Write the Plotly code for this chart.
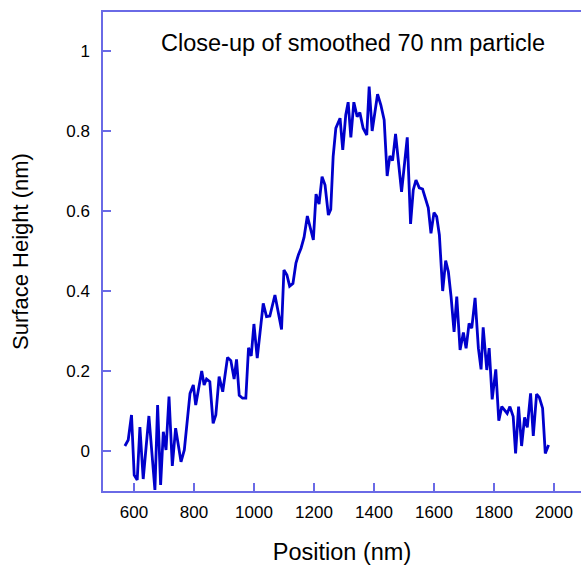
import plotly.graph_objects as go

position_nm = [570, 581, 592, 601, 611, 620, 631, 650, 670, 679,
               689, 698, 707, 717, 728, 739, 757, 768, 787, 798,
               806, 826, 834, 842, 853, 864, 873, 884, 896, 912,
               923, 934, 942, 951, 962, 973, 982, 991, 1000, 1011,
               1031, 1042, 1053, 1070, 1092, 1100, 1110, 1119, 1130, 1140,
               1148, 1157, 1167, 1178, 1198, 1207, 1217, 1227, 1237, 1248,
               1256, 1264, 1273, 1287, 1296, 1306, 1314, 1323, 1333, 1344,
               1353, 1364, 1376, 1384, 1394, 1412, 1423, 1434, 1444, 1453,
               1462, 1472, 1492, 1511, 1522, 1531, 1540, 1551, 1562, 1572,
               1581, 1590, 1600, 1609, 1618, 1629, 1639, 1648, 1657, 1667,
               1676, 1687, 1698, 1707, 1717, 1726, 1737, 1748, 1757, 1764,
               1776, 1784, 1794, 1806, 1816, 1826, 1834, 1844, 1853, 1864,
               1872, 1882, 1892, 1902, 1911, 1922, 1931, 1942, 1951, 1962,
               1971, 1982]

height_nm = [0.0125, 0.0275, 0.09, -0.06, -0.0725, 0.06, -0.07, 0.0875, -0.0975, 0.115,
             -0.085, 0.048, 0.0025, 0.136, -0.0375, 0.057, -0.027, 0.0025, 0.144, 0.165,
             0.115, 0.2, 0.165, 0.18, 0.173, 0.069, 0.09, 0.186, 0.148, 0.234,
             0.226, 0.18, 0.229, 0.139, 0.132, 0.132, 0.258, 0.2375, 0.3175, 0.232,
             0.369, 0.336, 0.3375, 0.39, 0.304, 0.4525, 0.44, 0.412, 0.419, 0.47,
             0.49, 0.507, 0.534, 0.5875, 0.5275, 0.642, 0.6175, 0.686, 0.665, 0.59,
             0.604, 0.736, 0.807, 0.832, 0.7525, 0.84, 0.872, 0.784, 0.872, 0.836,
             0.846, 0.807, 0.79, 0.911, 0.80, 0.892, 0.865, 0.8275, 0.6875, 0.7375,
             0.726, 0.7925, 0.648, 0.784, 0.5675, 0.6525, 0.6775, 0.658, 0.655, 0.6275,
             0.608, 0.544, 0.596, 0.586, 0.54, 0.40, 0.476, 0.448, 0.386, 0.298,
             0.386, 0.2525, 0.296, 0.2566, 0.319, 0.307, 0.383, 0.257, 0.204, 0.309,
             0.2025, 0.257, 0.129, 0.204, 0.076, 0.111, 0.1025, 0.094, 0.111, 0.086,
             -0.006, 0.111, 0.0125, 0.084, 0.059, 0.144, 0.0375, 0.1425, 0.134, 0.107,
             -0.006, 0.015]

x_ticks = [600, 800, 1000, 1200, 1400, 1600, 1800, 2000]
y_ticks = [0, 0.2, 0.4, 0.6, 0.8, 1]
y_tick_labels = ["0", "0.2", "0.4", "0.6", "0.8", "1"]

FONT = "Liberation Sans, Arial, sans-serif"
AXIS_COLOR = "#6a6ae6"

fig = go.Figure()
fig.add_trace(go.Scatter(
    x=position_nm, y=height_nm, mode="lines",
    line=dict(color="#0000cc", width=2.8),
    showlegend=False,
))

fig.update_layout(
    width=581, height=572,
    margin=dict(l=103, r=0, t=12, b=81),
    paper_bgcolor="white", plot_bgcolor="white",
    font=dict(family=FONT, color="black"),
    annotations=[dict(
        text="Close-up of smoothed 70 nm particle",
        xref="paper", yref="paper", x=0.522, y=0.935,
        xanchor="center", yanchor="middle", showarrow=False,
        font=dict(family=FONT, size=23.5, color="black"),
    )],
)

fig.update_xaxes(
    range=[497, 2090], tickvals=x_ticks,
    ticks="inside", ticklen=8, tickwidth=1.5, tickcolor=AXIS_COLOR,
    showline=True, linecolor=AXIS_COLOR, linewidth=1.5, mirror=True,
    showgrid=False, zeroline=False,
    tickfont=dict(family=FONT, size=17, color="black"),
    ticklabelstandoff=5,
    title=dict(text="Position (nm)", font=dict(family=FONT, size=23.5, color="black"), standoff=22),
)
fig.update_yaxes(
    range=[-0.1, 1.0975], tickvals=y_ticks, ticktext=y_tick_labels,
    ticks="inside", ticklen=8, tickwidth=1.5, tickcolor=AXIS_COLOR,
    showline=True, linecolor=AXIS_COLOR, linewidth=1.5, mirror=False,
    showgrid=False, zeroline=False,
    tickfont=dict(family=FONT, size=17, color="black"),
    ticklabelstandoff=8,
    title=dict(text="Surface Height (nm)", font=dict(family=FONT, size=22, color="black"), standoff=32),
)

fig.write_html("out.html")
